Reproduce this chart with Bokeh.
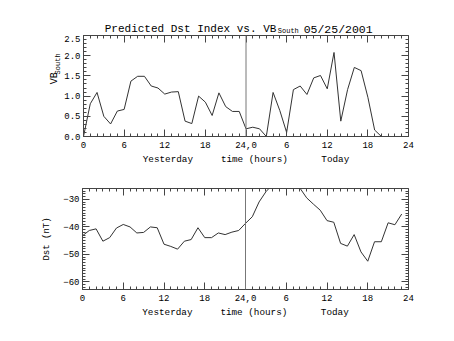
import numpy as np
from bokeh.plotting import figure
from bokeh.models import (Range1d, LinearAxis, FixedTicker, Span, Label,
                          NumeralTickFormatter, CustomLabelingPolicy)
from bokeh.layouts import column, row
from bokeh.embed import file_html
from bokeh.resources import INLINE

# ---- data ----
hours = list(range(48))
vb_south = [0.0, 0.81, 1.09, 0.50, 0.31, 0.63, 0.67, 1.37, 1.49, 1.49, 1.25, 1.20,
            1.05, 1.10, 1.11, 0.38, 0.32, 1.00, 0.85, 0.52, 1.08, 0.74, 0.62, 0.62,
            0.19, 0.23, 0.19, 0.0, 1.09, 0.64, 0.10, 1.16, 1.25, 1.04, 1.45, 1.51,
            1.18, 2.08, 0.38, 1.16, 1.71, 1.63, 0.97, 0.16, 0.0, 0.0, 0.0, 0.0]
dst = [-43.2, -41.3, -40.7, -45.2, -43.9, -40.4, -39.1, -40.0, -42.2, -42.0, -40.0, -40.3,
       -46.3, -47.1, -48.1, -45.2, -44.6, -40.3, -43.9, -43.9, -42.2, -42.8, -41.9, -41.3,
       -38.7, -36.3, -30.9, -27.2, -24.5, -23.0, -23.0, -24.0, -25.8, -29.4, -31.7, -33.9,
       -37.7, -38.3, -46.0, -47.0, -42.8, -49.1, -52.5, -45.4, -45.4, -38.5, -39.2, -35.3]
x_tick_values = [0, 6, 12, 18, 24, 30, 36, 42, 48]
x_tick_labels = ["0", "6", "12", "18", "24,0", "6", "12", "18", "24"]
vb_ticks = [0.0, 0.5, 1.0, 1.5, 2.0, 2.5]
dst_ticks = [-60, -50, -40, -30]
day_boundary = 24
title_main = "Predicted Dst Index vs. VB"
title_sub = "South"
title_date = "05/25/2001"
vb_label = "VB"
vb_sub = "South"
dst_label = "Dst (nT)"
x_label = "Yesterday\u00a0\u00a0\u00a0\u00a0\u00a0time (hours)\u00a0\u00a0\u00a0\u00a0\u00a0\u00a0Today"

FONT = "Liberation Mono"
AX = "#444444"
x_minor = list(range(0, 49))
vb_minor = [round(v, 1) for v in np.arange(0, 2.51, 0.1)]
dst_minor = list(range(-62, -25))


def style_axis(ax):
    ax.axis_line_color = AX
    ax.major_tick_line_color = AX
    ax.minor_tick_line_color = AX
    ax.major_tick_in = 7
    ax.major_tick_out = 0
    ax.minor_tick_in = 3
    ax.minor_tick_out = 0
    ax.major_label_text_font = FONT
    ax.major_label_text_color = "black"
    ax.major_label_text_font_size = "9px"
    ax.axis_label_text_font = FONT
    ax.axis_label_text_font_style = "normal"
    ax.axis_label_text_color = "black"


def hidden_axis(ticks, minor, loc):
    ax = LinearAxis(ticker=FixedTicker(ticks=ticks, minor_ticks=minor), fixed_location=loc)
    ax.major_label_policy = CustomLabelingPolicy(code="for (const i of indices) indices.unset(i)")
    ax.axis_line_color = AX
    ax.major_tick_line_color = AX
    ax.minor_tick_line_color = AX
    ax.major_tick_in = 0
    ax.major_tick_out = 7
    ax.minor_tick_in = 0
    ax.minor_tick_out = 3
    ax.major_label_standoff = 0
    return ax


def make_fig(width, height, left, top, bottom, yr, yticks, yminor, ys):
    p = figure(width=width, height=height, output_backend="svg", toolbar_location=None,
               x_range=Range1d(0, 48), y_range=Range1d(*yr),
               min_border_left=left, min_border_right=46,
               min_border_top=top, min_border_bottom=bottom)
    p.xgrid.visible = False
    p.ygrid.visible = False
    p.outline_line_color = AX
    p.background_fill_color = "white"
    p.border_fill_color = "white"
    p.xaxis.ticker = FixedTicker(ticks=x_tick_values, minor_ticks=x_minor)
    p.xaxis.major_label_overrides = {v: s for v, s in zip(x_tick_values, x_tick_labels)}
    p.yaxis.ticker = FixedTicker(ticks=yticks, minor_ticks=yminor)
    for ax in p.xaxis + p.yaxis:
        style_axis(ax)
    p.xaxis.axis_label = x_label
    p.xaxis.axis_label_text_font_size = "9.3px"
    p.xaxis.major_label_standoff = 5
    p.xaxis.axis_label_standoff = 3
    p.yaxis.major_label_standoff = 3
    p.add_layout(hidden_axis(x_tick_values, x_minor, yr[1]), "below")
    p.add_layout(hidden_axis(yticks, yminor, 48), "left")
    p.add_layout(Span(location=day_boundary, dimension="height", line_color="#777777", line_width=1))
    p.line(hours, ys, line_color="#333333", line_width=1)
    return p


def text_fig(width, height):
    f = figure(width=width, height=height, output_backend="svg", toolbar_location=None,
               title=None, x_range=Range1d(0, width), y_range=Range1d(0, height),
               x_axis_location=None, y_axis_location=None, min_border=0)
    f.grid.visible = False
    f.outline_line_color = None
    f.background_fill_color = "white"
    f.border_fill_color = "white"
    return f


def add_text(f, x, y, text, size, align="left", angle=0.0):
    f.add_layout(Label(x=x, y=y, text=text, text_font=FONT, text_font_size=size,
                       text_align=align, text_baseline="alphabetic", angle=angle,
                       text_color="black"))


# title strip
tfig = text_fig(454, 35)
add_text(tfig, 270, 6.5, title_main, "11px", align="right")
add_text(tfig, 272, 4.2, title_sub, "7px")
add_text(tfig, 308, 6.5, title_date, "11.5px")

# y label strip for top panel
lfig = text_fig(61, 135)
add_text(lfig, 54, 70, vb_label, "10px", angle=np.pi / 2)
add_text(lfig, 57.2, 83, vb_sub, "7px", angle=np.pi / 2)

p1 = make_fig(393, 135, 21, 0, 34, (0, 2.5), vb_ticks, vb_minor, vb_south)
p1.yaxis[0].formatter = NumeralTickFormatter(format="0.0")

p2 = make_fig(454, 171, 82, 18, 52, (-62.8, -26.0), dst_ticks, dst_minor, dst)
p2.yaxis[0].axis_label = dst_label
p2.yaxis[0].axis_label_text_font_size = "9px"
p2.yaxis[0].axis_label_standoff = 8

layout = column(tfig, row(lfig, p1, spacing=0), p2, spacing=0)
open("out.html", "w").write(file_html(layout, INLINE))
